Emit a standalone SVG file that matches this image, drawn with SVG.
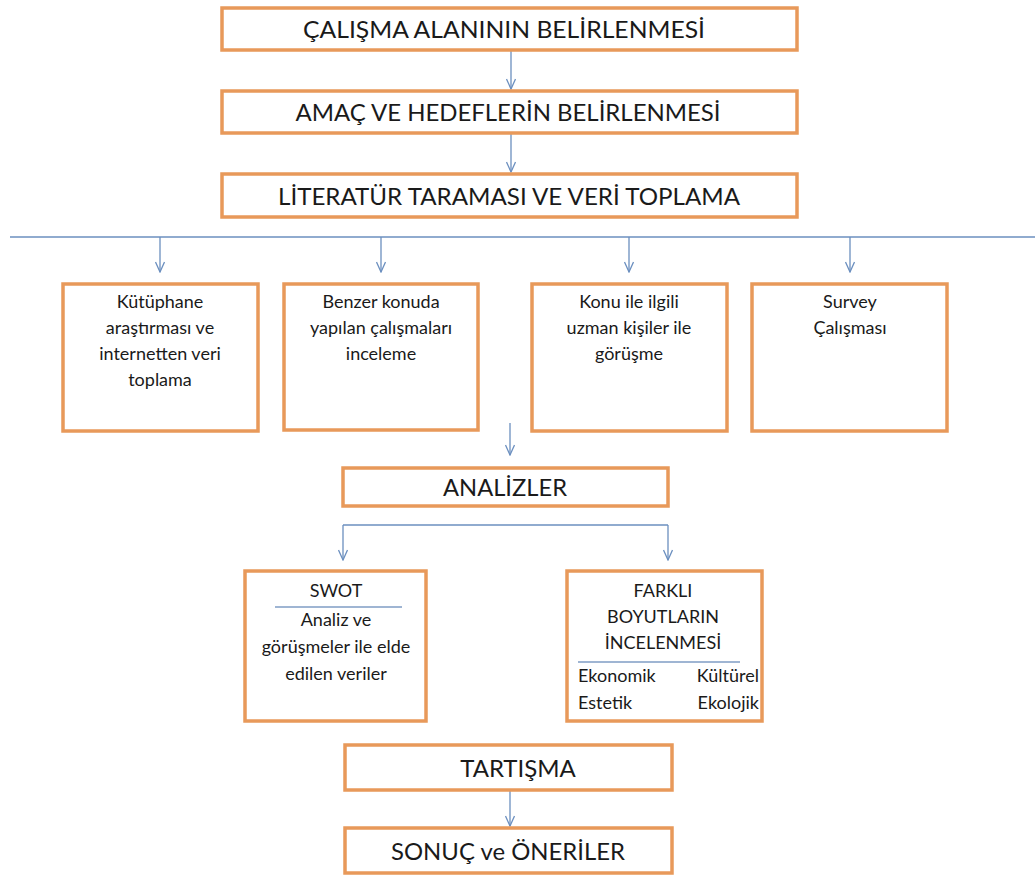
<svg xmlns="http://www.w3.org/2000/svg" width="1035" height="881" viewBox="0 0 1035 881">
<style>
.box{fill:#fff;stroke:#e8995a;stroke-width:3.5}
.t{font-family:Lato,"Open Sans","Liberation Sans",sans-serif;fill:#1a1a1a;text-anchor:middle}
.big{font-size:24px}
.sm{font-size:18px}
.ln{stroke:#6b8fbf;stroke-width:1.3;fill:none}
.ar{stroke:#6b8fbf;stroke-width:1.3;fill:none;marker-end:url(#ah)}
.sep{stroke:#7f9cc4;stroke-width:1.3}
</style>
<defs>
<marker id="ah" viewBox="0 0 12 10" refX="11" refY="5" markerWidth="12" markerHeight="10" markerUnits="userSpaceOnUse" orient="auto">
<path d="M1,0.5 L11,5 L1,9.5" fill="none" stroke="#6b8fbf" stroke-width="1.3"/>
</marker>
</defs>
<rect width="1035" height="881" fill="#fff"/>
<g id="connectors">
<line class="ar" x1="511" y1="50" x2="511" y2="89"/>
<line class="ar" x1="511" y1="133" x2="511" y2="172"/>
<line class="ln" x1="10" y1="237" x2="1035" y2="237"/>
<line class="ar" x1="160" y1="237" x2="160" y2="272"/>
<line class="ar" x1="381" y1="237" x2="381" y2="272"/>
<line class="ar" x1="629" y1="237" x2="629" y2="272"/>
<line class="ar" x1="850" y1="237" x2="850" y2="272"/>
<line class="ar" x1="510" y1="423" x2="510" y2="455"/>
<path class="ln" d="M343,525 H668"/>
<line class="ar" x1="343" y1="525" x2="343" y2="560"/>
<line class="ar" x1="668" y1="525" x2="668" y2="560"/>
<line class="ar" x1="510" y1="790" x2="510" y2="826"/>
</g>
<g id="n1"><rect class="box" x="222" y="8" width="575" height="42"/><text class="t big" x="504" y="38" textLength="402" lengthAdjust="spacingAndGlyphs">ÇALIŞMA ALANININ BELİRLENMESİ</text></g>
<g id="n2"><rect class="box" x="222" y="91" width="575" height="42"/><text class="t big" x="508" y="121" textLength="425" lengthAdjust="spacingAndGlyphs">AMAÇ VE HEDEFLERİN BELİRLENMESİ</text></g>
<g id="n3"><rect class="box" x="222" y="174" width="575" height="43"/><text class="t big" x="509" y="205" textLength="462" lengthAdjust="spacingAndGlyphs">LİTERATÜR TARAMASI VE VERİ TOPLAMA</text></g>
<g id="nA"><rect class="box" x="63" y="284" width="195" height="147"/>
<text class="t sm" x="160" y="308">Kütüphane</text><text class="t sm" x="160" y="334">araştırması ve</text><text class="t sm" x="160" y="360">internetten veri</text><text class="t sm" x="160" y="386">toplama</text></g>
<g id="nB"><rect class="box" x="284" y="284" width="194" height="146"/>
<text class="t sm" x="381" y="308">Benzer konuda</text><text class="t sm" x="381" y="334">yapılan çalışmaları</text><text class="t sm" x="381" y="360">inceleme</text></g>
<g id="nC"><rect class="box" x="532" y="284" width="195" height="147"/>
<text class="t sm" x="629" y="308">Konu ile ilgili</text><text class="t sm" x="629" y="334">uzman kişiler ile</text><text class="t sm" x="629" y="360">görüşme</text></g>
<g id="nD"><rect class="box" x="752" y="284" width="195" height="147"/>
<text class="t sm" x="850" y="308">Survey</text><text class="t sm" x="850" y="334">Çalışması</text></g>
<g id="nAn"><rect class="box" x="343" y="468" width="325" height="38"/><text class="t big" x="505" y="496" textLength="124" lengthAdjust="spacingAndGlyphs">ANALİZLER</text></g>
<g id="nS"><rect class="box" x="245" y="571" width="181" height="150"/>
<text class="t sm" x="336" y="597">SWOT</text><line class="sep" x1="275" y1="607" x2="402" y2="607"/>
<text class="t sm" x="336" y="626">Analiz ve</text><text class="t sm" x="336" y="653">görüşmeler ile elde</text><text class="t sm" x="336" y="680">edilen veriler</text></g>
<g id="nF"><rect class="box" x="567" y="571" width="195" height="150"/>
<text class="t sm" x="663" y="597">FARKLI</text><text class="t sm" x="663" y="623">BOYUTLARIN</text><text class="t sm" x="663" y="649">İNCELENMESİ</text>
<line class="sep" x1="578" y1="662" x2="740" y2="662"/>
<text class="t sm" x="578" y="682" style="text-anchor:start">Ekonomik</text><text class="t sm" x="759" y="682" style="text-anchor:end">Kültürel</text>
<text class="t sm" x="578" y="709" style="text-anchor:start">Estetik</text><text class="t sm" x="759" y="709" style="text-anchor:end">Ekolojik</text></g>
<g id="nT"><rect class="box" x="345" y="745" width="327" height="45"/><text class="t big" x="518" y="777">TARTIŞMA</text></g>
<g id="nSo"><rect class="box" x="345" y="828" width="327" height="45"/><text class="t big" x="508" y="860" textLength="234" lengthAdjust="spacingAndGlyphs">SONUÇ ve ÖNERİLER</text></g>
</svg>
